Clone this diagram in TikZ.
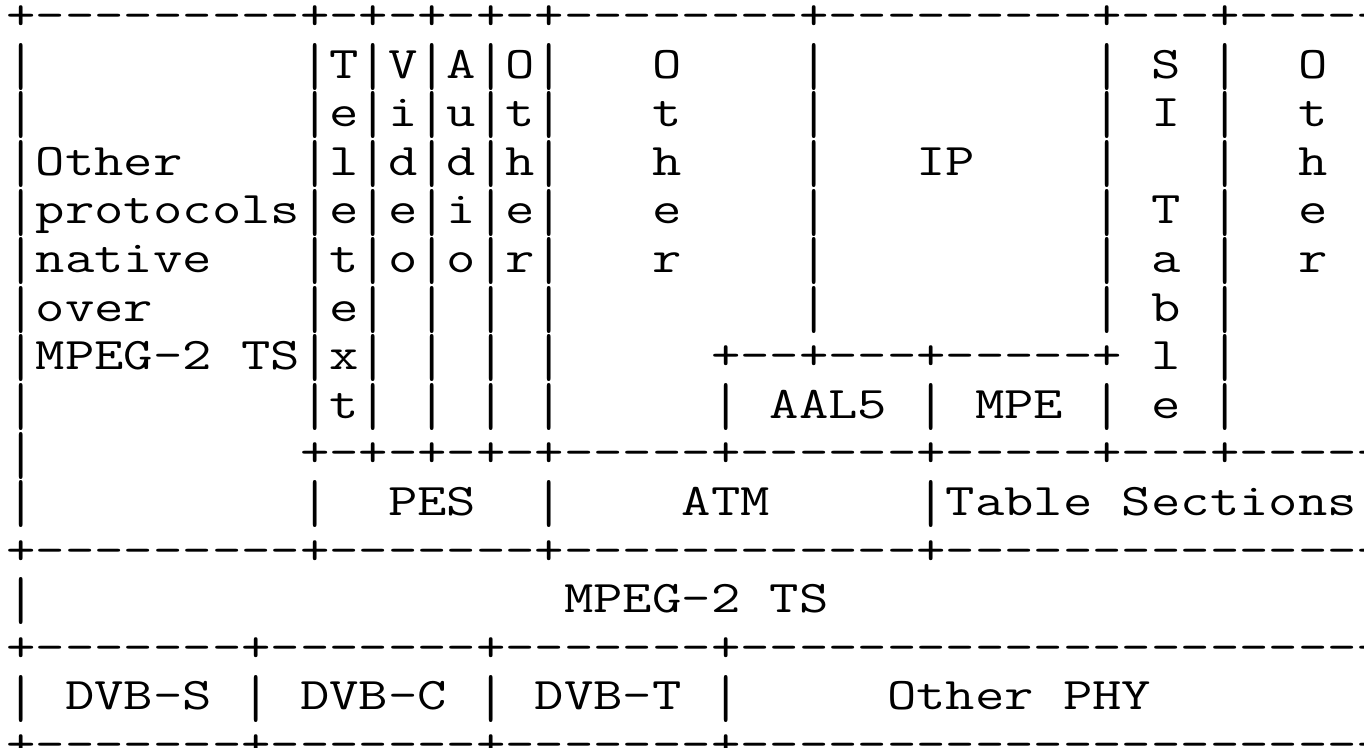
\documentclass[tikz,border=0pt]{standalone}
\usepackage{graphicx}
\newcommand\dashes[1]{\foreach\k in {1,...,#1}{-}}
\newcommand\blanks[1]{\hspace*{#1\fontcharwd\font`\-}}
\newcommand\vbar{\raisebox{-0.16em}{\scalebox{1}[1.34]{|}}}
\newcommand\asciirow[1]{\scalebox{1.261}[1]{#1}}
\tikzset{
  rowtext/.style={anchor=base west, inner sep=0pt,
    font=\fontsize{33.9pt}{36pt}\selectfont\ttfamily}
}
\begin{document}
\begin{tikzpicture}[x=0.75pt,y=-0.75pt]
          \useasboundingbox[fill=white] (0,0) rectangle (1364,747);
          % upper stack
          \node[rowtext] (row0) at (6.3,29.55) {\asciirow{+\dashes{9}+-+-+-+-+\dashes{8}+\dashes{9}+\dashes{3}+\dashes{6}}};
          \node[rowtext] (row1) at (6.3,78.15) {\asciirow{\vbar\blanks{9}\vbar T\vbar V\vbar A\vbar O\vbar\blanks{3}O\blanks{4}\vbar\blanks{9}\vbar\blanks{1}S\blanks{1}\vbar\blanks{2}O}};
          \node[rowtext] (row2) at (6.3,126.75) {\asciirow{\vbar\blanks{9}\vbar e\vbar i\vbar u\vbar t\vbar\blanks{3}t\blanks{4}\vbar\blanks{9}\vbar\blanks{1}I\blanks{1}\vbar\blanks{2}t}};
          \node[rowtext] (row3) at (6.3,175.35) {\asciirow{\vbar Other\blanks{4}\vbar l\vbar d\vbar d\vbar h\vbar\blanks{3}h\blanks{4}\vbar\blanks{3}IP\blanks{4}\vbar\blanks{3}\vbar\blanks{2}h}};
          \node[rowtext] (row4) at (6.3,223.95) {\asciirow{\vbar protocols\vbar e\vbar e\vbar i\vbar e\vbar\blanks{3}e\blanks{4}\vbar\blanks{9}\vbar\blanks{1}T\blanks{1}\vbar\blanks{2}e}};
          \node[rowtext] (row5) at (6.3,272.55) {\asciirow{\vbar native\blanks{3}\vbar t\vbar o\vbar o\vbar r\vbar\blanks{3}r\blanks{4}\vbar\blanks{9}\vbar\blanks{1}a\blanks{1}\vbar\blanks{2}r}};
          \node[rowtext] (row6) at (6.3,321.15) {\asciirow{\vbar over\blanks{5}\vbar e\vbar\blanks{1}\vbar\blanks{1}\vbar\blanks{1}\vbar\blanks{8}\vbar\blanks{9}\vbar\blanks{1}b\blanks{1}\vbar}};
          \node[rowtext] (row7) at (6.3,369.75) {\asciirow{\vbar MPEG-2\blanks{1}TS\vbar x\vbar\blanks{1}\vbar\blanks{1}\vbar\blanks{1}\vbar\blanks{5}+\dashes{2}+\dashes{3}+\dashes{5}+\blanks{1}l\blanks{1}\vbar}};
          \node[rowtext] (row8) at (6.3,418.35) {\asciirow{\vbar\blanks{9}\vbar t\vbar\blanks{1}\vbar\blanks{1}\vbar\blanks{1}\vbar\blanks{5}\vbar\blanks{1}AAL5\blanks{1}\vbar\blanks{1}MPE\blanks{1}\vbar\blanks{1}e\blanks{1}\vbar}};
          \node[rowtext] (row9) at (6.3,466.95) {\asciirow{\vbar\blanks{9}+-+-+-+-+\dashes{5}+\dashes{6}+\dashes{5}+\dashes{3}+\dashes{6}}};
          % PES, ATM and sections
          \node[rowtext] (row10) at (6.3,515.55) {\asciirow{\vbar\blanks{9}\vbar\blanks{2}PES\blanks{2}\vbar\blanks{4}ATM\blanks{5}\vbar Table\blanks{1}Sections}};
          \node[rowtext] (row11) at (6.3,564.15) {\asciirow{+\dashes{9}+\dashes{7}+\dashes{12}+\dashes{16}}};
          % transport stream
          \node[rowtext] (row12) at (6.3,612.75) {\asciirow{\vbar\blanks{18}MPEG-2\blanks{1}TS}};
          \node[rowtext] (row13) at (6.3,661.35) {\asciirow{+\dashes{7}+\dashes{7}+\dashes{7}+\dashes{23}}};
          % and the physical layers
          \node[rowtext] (row14) at (6.3,709.95) {\asciirow{\vbar\blanks{1}DVB-S\blanks{1}\vbar\blanks{1}DVB-C\blanks{1}\vbar\blanks{1}DVB-T\blanks{1}\vbar\blanks{5}Other\blanks{1}PHY}};
          \node[rowtext] (row15) at (6.3,758.55) {\asciirow{+\dashes{7}+\dashes{7}+\dashes{7}+\dashes{23}}};
        \end{tikzpicture}
\end{document}
